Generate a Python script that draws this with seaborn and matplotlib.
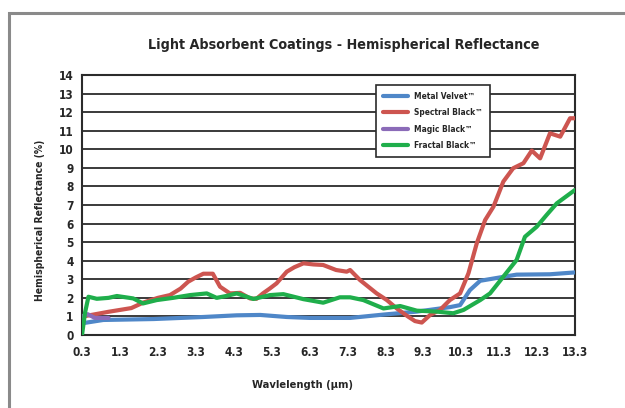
import pandas as pd
import matplotlib.pyplot as plt
import seaborn as sns
from matplotlib.patches import Rectangle

# ===============================
# 1. DATOS
# ===============================

series_names = ["Metal Velvet™", "Spectral Black™", "Magic Black™", "Fractal Black™"]
series_colors = ["#4f87c8", "#cd5550", "#8b6bb8", "#1fae4b"]

velvet_wl = [0.3, 0.86, 2.19, 3.5, 4.38, 5.0, 5.7, 6.3, 7.37, 8.25, 9.13, 10.0,
             10.27, 10.53, 10.8, 11.32, 11.76, 12.64, 13.3]
velvet_r = [0.63, 0.81, 0.86, 0.97, 1.06, 1.08, 0.97, 0.92, 0.92, 1.1, 1.26, 1.5,
            1.61, 2.42, 2.92, 3.1, 3.25, 3.27, 3.37]

spectral_wl = [0.3, 0.6, 1.0, 1.3, 1.6, 1.92, 2.3, 2.62, 2.9, 3.1,
               3.3, 3.5, 3.75, 3.94, 4.2, 4.47, 4.73, 4.9, 5.07, 5.25,
               5.43, 5.7, 5.9, 6.14, 6.4, 6.66, 7.0, 7.28, 7.37, 7.63,
               7.85, 8.07, 8.34, 8.6, 8.9, 9.08, 9.26, 9.48, 9.74, 10.0,
               10.27, 10.49, 10.71, 10.93, 11.15, 11.41, 11.67, 11.94, 12.16, 12.38,
               12.64, 12.91, 13.17, 13.3]
spectral_r = [0.99, 1.1, 1.25, 1.35, 1.45, 1.75, 2.0, 2.15, 2.5, 2.87,
              3.1, 3.3, 3.3, 2.6, 2.24, 2.27, 1.97, 1.95, 2.24, 2.5,
              2.78, 3.41, 3.65, 3.86, 3.8, 3.77, 3.5, 3.41, 3.5, 2.96,
              2.6, 2.24, 1.88, 1.43, 0.99, 0.75, 0.67, 1.08, 1.35, 1.88,
              2.24, 3.32, 4.94, 6.19, 6.91, 8.26, 8.98, 9.25, 9.93, 9.51,
              10.86, 10.68, 11.67, 11.67]

magic_wl = [0.3, 0.45, 0.64, 1.0]
magic_r = [1.0, 1.12, 0.92, 0.92]

fractal_wl = [0.3, 0.38, 0.47, 0.69, 1.0, 1.22, 1.65, 1.91, 2.27, 2.7,
              3.15, 3.59, 3.85, 4.1, 4.38, 4.82, 5.26, 5.61, 6.14, 6.66,
              7.1, 7.37, 7.72, 8.25, 8.69, 9.13, 9.66, 10.09, 10.36, 10.8,
              11.06, 11.41, 11.76, 11.98, 12.29, 12.55, 12.82, 13.3]
fractal_r = [0.0, 1.2, 2.06, 1.95, 2.0, 2.1, 1.97, 1.7, 1.88, 2.0,
             2.15, 2.24, 2.0, 2.1, 2.24, 1.94, 2.15, 2.2, 1.93, 1.74,
             2.03, 2.03, 1.88, 1.43, 1.56, 1.31, 1.26, 1.17, 1.35, 1.88,
             2.24, 3.14, 4.04, 5.29, 5.83, 6.46, 7.09, 7.81]

x_ticks = [0.3, 1.3, 2.3, 3.3, 4.3, 5.3, 6.3, 7.3, 8.3, 9.3, 10.3, 11.3, 12.3, 13.3]
y_ticks = list(range(0, 15))

frames = []
for name, wl, r in zip(series_names,
                       [velvet_wl, spectral_wl, magic_wl, fractal_wl],
                       [velvet_r, spectral_r, magic_r, fractal_r]):
    frames.append(pd.DataFrame({"wl": wl, "r": r, "coating": name}))
df = pd.concat(frames, ignore_index=True)

# ===============================
# 2. GRAFICO
# ===============================

sns.set_style("white")
plt.rcParams["font.family"] = ["DejaVu Sans"]
plt.rcParams["font.stretch"] = "condensed"
plt.rcParams["font.weight"] = "bold"
plt.rcParams["axes.labelweight"] = "bold"
plt.rcParams["axes.titleweight"] = "bold"

fig = plt.figure(figsize=(6.25, 4.08), dpi=100)
ax = fig.add_axes([0.1312, 0.1789, 0.7888, 0.6373])

# marco gris de la figura
fig.patches.append(Rectangle((9 / 625, -0.1), 1.2, 1 - 13 / 408 + 0.1,
                             transform=fig.transFigure, fill=False,
                             edgecolor="#8a8a8a", linewidth=2.2))

for y in y_ticks[1:]:
    ax.axhline(y, color="#2b2b2b", linewidth=1.3, zorder=1)

sns.lineplot(data=df, x="wl", y="r", hue="coating", hue_order=series_names,
             palette=series_colors, linewidth=3, sort=False, estimator=None,
             ax=ax, zorder=3)

ax.set_xlim(0.3, 13.3)
ax.set_ylim(0, 14)
ax.set_xticks(x_ticks)
ax.set_xticklabels([str(t) for t in x_ticks], fontsize=8.5)
ax.set_yticks(y_ticks)
ax.set_yticklabels([str(t) for t in y_ticks], fontsize=8.5)
ax.tick_params(axis="x", length=5, width=1.3, color="#2b2b2b", direction="out", pad=3)
ax.tick_params(axis="y", length=3, width=1.3, color="#2b2b2b", pad=3)
for s in ax.spines.values():
    s.set_color("#2b2b2b")
    s.set_linewidth(1.5)

ax.set_title("Light Absorbent Coatings - Hemispherical Reflectance",
             fontsize=10.3, fontweight="bold", pad=19, x=0.531)
ax.set_xlabel("Wavlelength (µm)", fontsize=8)
ax.set_ylabel("Hemispherical Reflectance (%)", fontsize=7.5)
ax.xaxis.set_label_coords(0.448, -0.173)
ax.yaxis.set_label_coords(-0.075, 0.44)

leg = ax.legend(loc="upper left", bbox_to_anchor=(0.588, 0.977), fontsize=6,
                frameon=True, fancybox=False, edgecolor="#2b2b2b",
                framealpha=1, handlelength=3, borderpad=0.8, labelspacing=0.9)
leg.get_frame().set_linewidth(1.2)
for line in leg.get_lines():
    line.set_linewidth(3)

fig.savefig("out.png", dpi=100)
plt.close()
